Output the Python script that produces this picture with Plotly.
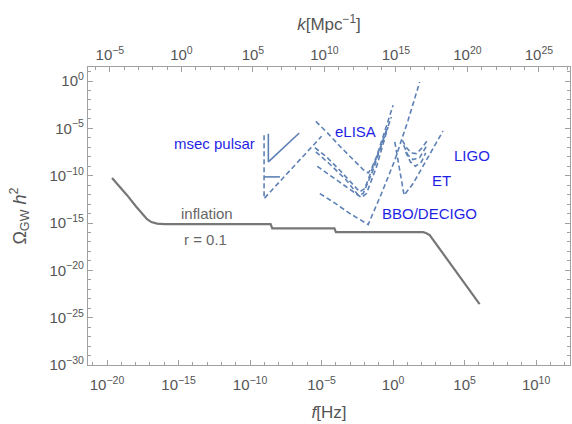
import numpy as np
import plotly.graph_objects as go

# ---- data (log10 values) ----
# inflation spectrum, r = 0.1
infl_logf = [-19.65, -19.2, -18.6, -18.0, -17.5, -17.2, -16.9, -16.5, -16.0, -8.56, -8.45, -4.10, -4.0, 2.09, 2.3, 2.56, 6.05]
infl_logO = [-10.24, -11.0, -12.06, -13.2, -14.1, -14.6, -14.9, -15.07, -15.12, -15.12, -15.57, -15.57, -15.96, -15.96, -16.05, -16.28, -23.56]

# pulsar timing
psr_solid_logf = [-8.72, -8.72, -6.56]
psr_solid_logO = [-5.56, -8.55, -5.49]
psr_dash_logf = [-9.02, -9.02, -5.00]
psr_dash_logO = [-5.73, -12.42, -5.84]
psr_bar_logf = [-9.02, -7.91]
psr_bar_logO = [-10.13, -10.13]

# space interferometers (eLISA ... BBO/DECIGO)
e1_logf = [-5.40, -4.65, -3.72, -2.79, -2.09, -1.74, -1.51, -1.16, -0.70, 0.00]
e1_logO = [-4.26, -5.38, -6.89, -8.30, -9.36, -9.71, -9.25, -8.02, -5.91, -2.57]
e2_logf = [-5.47, -4.65, -3.72, -2.79, -2.33, -1.98, -1.40, -0.70, -0.12]
e2_logO = [-7.04, -8.02, -9.43, -10.90, -11.71, -11.36, -9.08, -6.26, -3.80]
e3_logf = [-5.40, -4.42, -3.26, -2.44, -2.09, -1.40, -0.47]
e3_logO = [-7.49, -8.79, -10.48, -12.07, -11.89, -9.43, -5.21]
e4_logf = [-5.30, -4.42, -3.26, -2.21, -1.86, -1.16, -0.35]
e4_logO = [-9.01, -9.95, -11.26, -12.31, -11.89, -9.08, -4.85]
bbo_logf = [-5.12, -4.19, -3.02, -1.74, -0.81, 0.12, 1.05, 1.86]
bbo_logO = [-11.89, -12.77, -14.00, -15.16, -11.89, -8.37, -4.15, -0.11]

# ground-based
et_logf = [0.12, 0.47, 0.77, 1.40, 2.33, 3.49]
et_logO = [-6.44, -9.43, -12.07, -10.83, -8.37, -5.28]
l1_logf = [0.65, 0.93, 1.28, 1.63, 1.98, 2.44]
l1_logO = [-6.26, -7.04, -7.60, -7.67, -7.14, -6.19]
l2_logf = [0.74, 1.05, 1.40, 1.86, 2.33]
l2_logO = [-6.79, -7.84, -8.30, -8.09, -6.89]
l3_logf = [0.88, 1.21, 1.56, 1.98, 2.28]
l3_logO = [-7.49, -8.55, -9.01, -8.55, -7.60]

# labels: (text, log f, log Omega, color)
labels = [
    ("msec pulsar", -12.51, -6.57, "#1f1fe6"),
    ("eLISA", -2.60, -5.38, "#1f1fe6"),
    ("LIGO", 5.50, -7.84, "#1f1fe6"),
    ("ET", 3.40, -10.48, "#1f1fe6"),
    ("BBO/DECIGO", 2.56, -13.96, "#1f1fe6"),
    ("inflation", -13.02, -13.99, "#666666"),
    ("r = 0.1", -13.14, -16.74, "#666666"),
]

f_ticks = [-20, -15, -10, -5, 0, 5, 10]
k_ticks = [-5, 0, 5, 10, 15, 20, 25]
O_ticks = [0, -5, -10, -15, -20, -25, -30]
K_SHIFT = 14.8  # log10(k[Mpc^-1]) - log10(f[Hz])

def sup(e):
    return "10<sup>" + str(e).replace("-", "\u2212") + "</sup>"

BLUE = "#5E81B5"
GRAY = "#777777"
AX = "#a0a0a0"
FONT = "Liberation Sans"

fig = go.Figure()

def add(lf, lo, color, dash=None, width=1.6):
    fig.add_trace(go.Scatter(
        x=10 ** np.array(lf), y=10 ** np.array(lo), mode="lines",
        line=dict(color=color, width=width, dash=dash),
        showlegend=False, hoverinfo="skip"))

DASH = "5px,3px"
add(psr_dash_logf, psr_dash_logO, BLUE, DASH)
add(psr_solid_logf, psr_solid_logO, BLUE, None)
add(psr_bar_logf, psr_bar_logO, BLUE, None)
for lf, lo in [(e1_logf, e1_logO), (e2_logf, e2_logO), (e3_logf, e3_logO),
               (e4_logf, e4_logO), (bbo_logf, bbo_logO), (et_logf, et_logO),
               (l1_logf, l1_logO), (l2_logf, l2_logO), (l3_logf, l3_logO)]:
    add(lf, lo, BLUE, DASH)
add(infl_logf, infl_logO, GRAY, None, 2.2)

# invisible copy on the k axis so the top axis is drawn
fig.add_trace(go.Scatter(
    x=10 ** (np.array(infl_logf) + K_SHIFT), y=10 ** np.array(infl_logO),
    xaxis="x2", mode="lines", line=dict(color="rgba(0,0,0,0)"),
    showlegend=False, hoverinfo="skip"))

for txt, lx, ly, col in labels:
    fig.add_annotation(x=lx, y=ly, xref="x", yref="y", text=txt, showarrow=False,
                       font=dict(family=FONT, size=15, color=col))

tickfont = dict(family=FONT, size=15, color="#555555")
common = dict(type="log", showgrid=False, zeroline=False, showline=True,
              linecolor=AX, linewidth=1.2, ticks="inside", ticklen=5,
              tickcolor=AX, tickfont=tickfont)

fig.update_layout(
    width=572, height=424,
    margin=dict(l=88, r=2, t=67, b=59),
    paper_bgcolor="white", plot_bgcolor="white",
    xaxis=dict(**common, range=[-21.33, 12.37], ticklabelstandoff=6,
               tickvals=[10.0 ** e for e in f_ticks], ticktext=[sup(e) for e in f_ticks],
               minor=dict(tickvals=[10.0 ** e for e in range(-21, 13)], ticklen=3,
                          ticks="inside", tickcolor=AX),
               title=dict(text="<i>f</i>[Hz]", font=dict(family=FONT, size=17, color="#555555"),
                          standoff=14)),
    xaxis2=dict(**common, overlaying="x", side="top", anchor="y",
                range=[-21.33 + K_SHIFT, 12.37 + K_SHIFT],
                tickvals=[10.0 ** e for e in k_ticks], ticktext=[sup(e) for e in k_ticks],
                minor=dict(tickvals=[10.0 ** e for e in range(-7, 28)], ticklen=3,
                           ticks="inside", tickcolor=AX),
                title=dict(text="<i>k</i>[Mpc<sup>\u22121</sup>]",
                           font=dict(family=FONT, size=17, color="#555555"), standoff=8)),
    yaxis=dict(**common, range=[-30, 1.48], mirror="ticks",
               tickvals=[10.0 ** e for e in O_ticks], ticktext=[sup(e) for e in O_ticks],
               minor=dict(tickvals=[10.0 ** e for e in range(-30, 2)], ticklen=3,
                          ticks="inside", tickcolor=AX),
               title=dict(text="\u03a9<sub>GW</sub> <i>h</i><sup>2</sup>",
                          font=dict(family=FONT, size=18, color="#555555"), standoff=18)),
)

fig.write_html("out.html")
